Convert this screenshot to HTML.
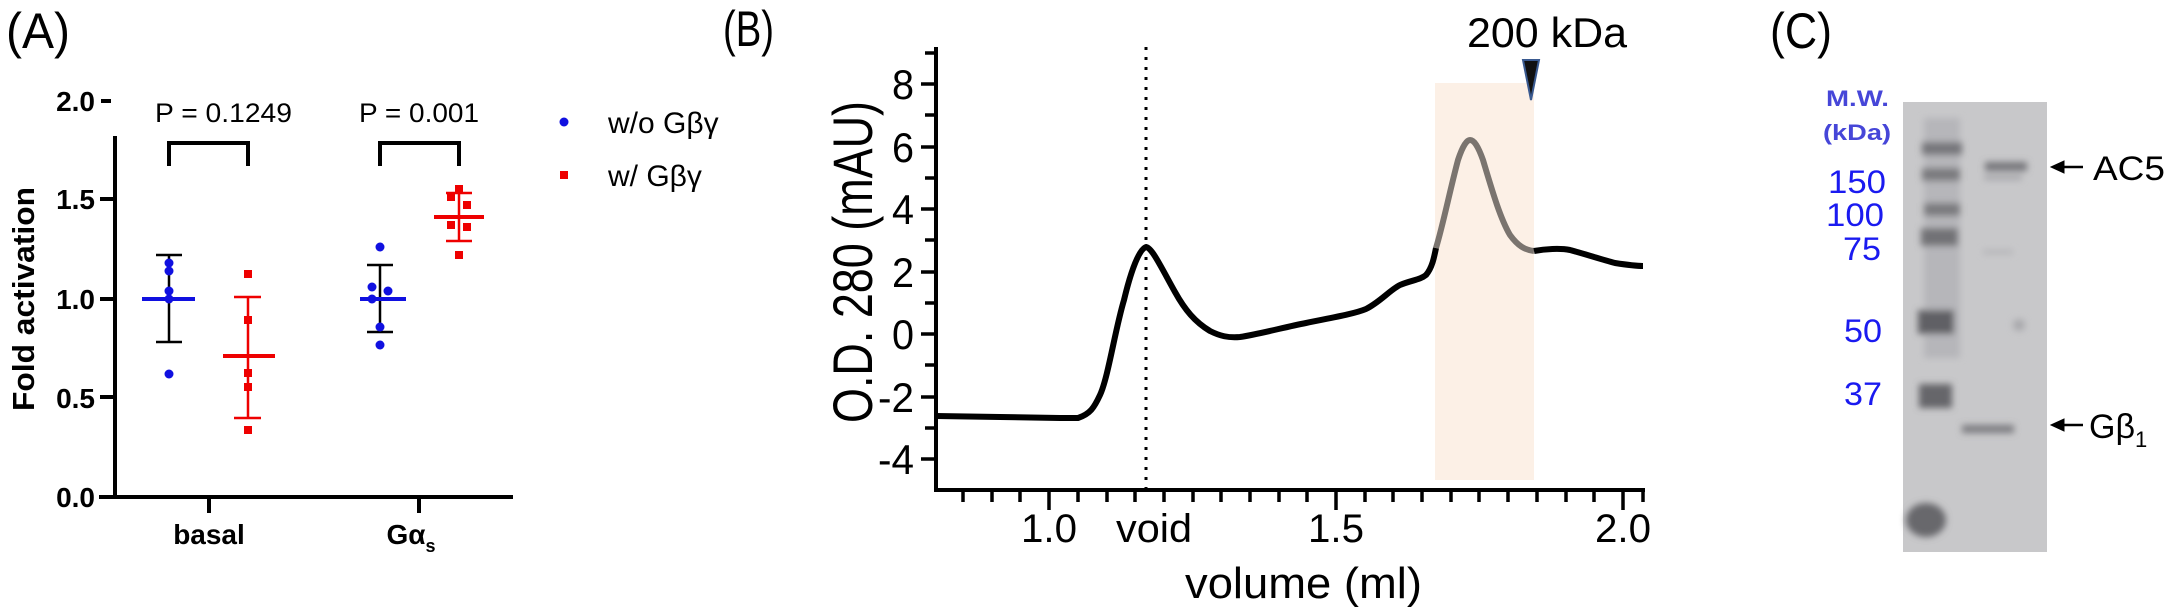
<!DOCTYPE html>
<html><head><meta charset="utf-8"><style>
html,body{margin:0;padding:0;background:#fff;}
svg{display:block;}
text{font-family:"Liberation Sans",Arial,sans-serif;}
</style></head><body>
<svg width="2168" height="611" viewBox="0 0 2168 611" xmlns="http://www.w3.org/2000/svg">
<defs>
<filter id="blur2" x="-50%" y="-50%" width="200%" height="200%"><feGaussianBlur stdDeviation="3.5"/></filter>
</defs>
<!-- Panel A -->
<text x="6" y="48" font-size="50" textLength="64" lengthAdjust="spacingAndGlyphs">(A)</text>
<g stroke="#000" stroke-width="4" fill="none">
<line x1="115" y1="136" x2="115" y2="499"/>
<line x1="99" y1="497" x2="513" y2="497"/>
<line x1="100" y1="397" x2="115" y2="397"/>
<line x1="100" y1="299" x2="115" y2="299"/>
<line x1="100" y1="199" x2="115" y2="199"/>
<line x1="101" y1="101" x2="111" y2="101"/>
<line x1="209" y1="497" x2="209" y2="513"/>
<line x1="419" y1="497" x2="419" y2="513"/>
<polyline points="169,166 169,143 248,143 248,166"/>
<polyline points="380,166 380,143 459,143 459,166"/>
</g>
<g font-size="28" font-weight="bold" text-anchor="end">
<text x="95" y="507">0.0</text>
<text x="95" y="408">0.5</text>
<text x="95" y="309">1.0</text>
<text x="95" y="209">1.5</text>
<text x="95" y="111">2.0</text>
</g>
<text transform="translate(34,299) rotate(-90)" font-size="31" font-weight="bold" text-anchor="middle" textLength="224" lengthAdjust="spacingAndGlyphs">Fold activation</text>
<text x="209" y="544" font-size="28" font-weight="bold" text-anchor="middle">basal</text>
<text x="411" y="544" font-size="28" font-weight="bold" text-anchor="middle">Gα<tspan font-size="18" dy="8">s</tspan></text>
<text x="155" y="122" font-size="27" textLength="137" lengthAdjust="spacingAndGlyphs">P = 0.1249</text>
<text x="359" y="122" font-size="27" textLength="120" lengthAdjust="spacingAndGlyphs">P = 0.001</text>
<g stroke="#000" stroke-width="2.5">
<line x1="169" y1="255" x2="169" y2="342"/><line x1="156" y1="255" x2="182" y2="255"/><line x1="156" y1="342" x2="182" y2="342"/>
<line x1="380" y1="265" x2="380" y2="332"/><line x1="367" y1="265" x2="393" y2="265"/><line x1="367" y1="332" x2="393" y2="332"/>
</g>
<g stroke="#e00" stroke-width="2.5">
<line x1="248" y1="297" x2="248" y2="418"/><line x1="234" y1="297" x2="261" y2="297"/><line x1="234" y1="418" x2="261" y2="418"/>
<line x1="459" y1="193" x2="459" y2="241"/><line x1="446" y1="193" x2="472" y2="193"/><line x1="446" y1="241" x2="472" y2="241"/>
</g>
<g stroke-width="4">
<line x1="142" y1="299" x2="195" y2="299" stroke="#1010e0"/>
<line x1="360" y1="299" x2="406" y2="299" stroke="#1010e0"/>
<line x1="223" y1="356" x2="275" y2="356" stroke="#e00"/>
<line x1="434" y1="217" x2="484" y2="217" stroke="#e00"/>
</g>
<g fill="#1010e0">
<circle cx="169" cy="263" r="4.5"/><circle cx="169" cy="271" r="4.5"/><circle cx="169" cy="291" r="4.5"/><circle cx="169" cy="299" r="4.5"/><circle cx="169" cy="374" r="4.5"/>
<circle cx="380" cy="247" r="4.5"/><circle cx="372" cy="287" r="4.5"/><circle cx="388" cy="291" r="4.5"/><circle cx="372" cy="299" r="4.5"/><circle cx="380" cy="327" r="4.5"/><circle cx="380" cy="345" r="4.5"/>
<circle cx="564" cy="122" r="4.5"/>
</g>
<g fill="#e00">
<rect x="244" y="270" width="8" height="8"/><rect x="244" y="316" width="8" height="8"/><rect x="244" y="369" width="8" height="8"/><rect x="244" y="383" width="8" height="8"/><rect x="244" y="426" width="8" height="8"/>
<rect x="455" y="185" width="8" height="8"/><rect x="447" y="193" width="8" height="8"/><rect x="463" y="201" width="8" height="8"/><rect x="447" y="221" width="8" height="8"/><rect x="463" y="223" width="8" height="8"/><rect x="455" y="251" width="8" height="8"/>
<rect x="560" y="171" width="8" height="8"/>
</g>
<text x="608" y="133" font-size="30">w/o Gβγ</text>
<text x="608" y="186" font-size="30">w/ Gβγ</text>

<!-- Panel B -->
<text x="723" y="46" font-size="50" textLength="51" lengthAdjust="spacingAndGlyphs">(B)</text>
<rect x="1435" y="83" width="99" height="397" fill="#fcf0e6"/>
<g stroke="#000" stroke-width="4" fill="none">
<line x1="936" y1="47" x2="936" y2="492"/>
<line x1="934" y1="490" x2="1645" y2="490"/>
</g>
<g stroke="#000" stroke-width="3.5">
<line x1="936" y1="53" x2="925" y2="53"/><line x1="936" y1="84" x2="921" y2="84"/><line x1="936" y1="115" x2="925" y2="115"/><line x1="936" y1="147" x2="921" y2="147"/><line x1="936" y1="178" x2="925" y2="178"/><line x1="936" y1="209" x2="921" y2="209"/><line x1="936" y1="240" x2="925" y2="240"/><line x1="936" y1="272" x2="921" y2="272"/><line x1="936" y1="303" x2="925" y2="303"/><line x1="936" y1="334" x2="921" y2="334"/><line x1="936" y1="365" x2="925" y2="365"/><line x1="936" y1="397" x2="921" y2="397"/><line x1="936" y1="428" x2="925" y2="428"/><line x1="936" y1="459" x2="921" y2="459"/>
<line x1="963" y1="490" x2="963" y2="502"/><line x1="992" y1="490" x2="992" y2="502"/><line x1="1020" y1="490" x2="1020" y2="502"/><line x1="1049" y1="490" x2="1049" y2="510"/><line x1="1078" y1="490" x2="1078" y2="502"/><line x1="1107" y1="490" x2="1107" y2="502"/><line x1="1135" y1="490" x2="1135" y2="502"/><line x1="1164" y1="490" x2="1164" y2="502"/><line x1="1193" y1="490" x2="1193" y2="502"/><line x1="1221" y1="490" x2="1221" y2="502"/><line x1="1250" y1="490" x2="1250" y2="502"/><line x1="1279" y1="490" x2="1279" y2="502"/><line x1="1307" y1="490" x2="1307" y2="502"/><line x1="1336" y1="490" x2="1336" y2="510"/><line x1="1365" y1="490" x2="1365" y2="502"/><line x1="1393" y1="490" x2="1393" y2="502"/><line x1="1422" y1="490" x2="1422" y2="502"/><line x1="1451" y1="490" x2="1451" y2="502"/><line x1="1479" y1="490" x2="1479" y2="502"/><line x1="1508" y1="490" x2="1508" y2="502"/><line x1="1537" y1="490" x2="1537" y2="502"/><line x1="1566" y1="490" x2="1566" y2="502"/><line x1="1594" y1="490" x2="1594" y2="502"/><line x1="1623" y1="490" x2="1623" y2="510"/><line x1="1643" y1="490" x2="1643" y2="502"/>
</g>
<g font-size="42" text-anchor="end">
<text x="914" y="99" textLength="22" lengthAdjust="spacingAndGlyphs">8</text>
<text x="914" y="162" textLength="22" lengthAdjust="spacingAndGlyphs">6</text>
<text x="914" y="224" textLength="22" lengthAdjust="spacingAndGlyphs">4</text>
<text x="914" y="287" textLength="22" lengthAdjust="spacingAndGlyphs">2</text>
<text x="914" y="349" textLength="22" lengthAdjust="spacingAndGlyphs">0</text>
<text x="914" y="412" textLength="36" lengthAdjust="spacingAndGlyphs">-2</text>
<text x="914" y="474" textLength="36" lengthAdjust="spacingAndGlyphs">-4</text>
</g>
<g font-size="40" text-anchor="middle">
<text x="1049" y="542" textLength="56" lengthAdjust="spacingAndGlyphs">1.0</text>
<text x="1154" y="542" textLength="76" lengthAdjust="spacingAndGlyphs">void</text>
<text x="1336" y="542" textLength="56" lengthAdjust="spacingAndGlyphs">1.5</text>
<text x="1623" y="542" textLength="56" lengthAdjust="spacingAndGlyphs">2.0</text>
</g>
<text x="1185" y="598" font-size="44" textLength="237" lengthAdjust="spacingAndGlyphs">volume (ml)</text>
<text transform="translate(872,262) rotate(-90)" font-size="56" text-anchor="middle" textLength="322" lengthAdjust="spacingAndGlyphs">O.D. 280 (mAU)</text>
<line x1="1146" y1="47" x2="1146" y2="488" stroke="#000" stroke-width="3" stroke-dasharray="3,7"/>
<path d="M936,416 L1000,417 L1060,418 L1078,418 C1090,414 1094,408 1100,395 C1108,378 1115,330 1124,300 C1130,275 1138,250 1146,247 C1152,248 1160,265 1175,292 C1185,310 1195,322 1210,331 C1220,336 1228,338 1240,337 C1260,334 1285,327 1306,323 C1330,318 1354,314 1366,309 C1380,302 1390,290 1400,285 C1412,280 1420,280 1426,275 C1432,268 1434,258 1436,248" fill="none" stroke="#000" stroke-width="6" stroke-linejoin="round"/>
<path d="M1436,248 C1443,225 1450,190 1458,160 C1463,145 1467,140 1470,140 C1474,140 1478,146 1483,160 C1492,190 1500,218 1510,235 C1518,246 1525,250 1534,251" fill="none" stroke="#7a746f" stroke-width="6" stroke-linejoin="round"/>
<path d="M1534,251 C1545,249 1560,248 1570,250 C1585,254 1600,259 1615,263 C1628,265 1637,266 1643,266" fill="none" stroke="#000" stroke-width="6" stroke-linejoin="round"/>
<polygon points="1523,60 1539,60 1531,100" fill="#111" stroke="#3a5a90" stroke-width="2"/>
<text x="1467" y="47" font-size="42" textLength="160" lengthAdjust="spacingAndGlyphs">200 kDa</text>

<!-- Panel C -->
<text x="1770" y="48" font-size="50" textLength="62" lengthAdjust="spacingAndGlyphs">(C)</text>
<rect x="1903" y="102" width="144" height="450" fill="#c8c8ca"/>
<g filter="url(#blur2)">
<rect x="1924" y="118" width="36" height="240" fill="#b6b6ba"/>
<rect x="1922" y="142" width="40" height="13" fill="#76767a"/>
<rect x="1922" y="168" width="38" height="13" fill="#7a7a7e"/>
<rect x="1924" y="203" width="36" height="13" fill="#7a7a7e"/>
<rect x="1921" y="228" width="37" height="18" fill="#727276"/>
<rect x="1918" y="310" width="36" height="24" fill="#616165"/>
<rect x="1919" y="384" width="33" height="24" fill="#66666a"/>
<ellipse cx="1926" cy="520" rx="20" ry="17" fill="#68686c"/>
<rect x="1985" y="162" width="42" height="9" fill="#76767a"/>
<rect x="1984" y="175" width="38" height="5" fill="#a6a6aa"/>
<rect x="1983" y="250" width="30" height="4" fill="#b2b2b6"/>
<rect x="1962" y="425" width="52" height="8" fill="#7c7c80"/>
<circle cx="2019" cy="325" r="6" fill="#a8a8ac"/>
</g>
<g font-weight="bold" fill="#4646d8" font-size="22" text-anchor="end">
<text x="1889" y="106" textLength="63" lengthAdjust="spacingAndGlyphs">M.W.</text>
<text x="1891" y="140" textLength="68" lengthAdjust="spacingAndGlyphs">(kDa)</text>
</g>
<g fill="#1a1af0" font-size="32" text-anchor="end">
<text x="1886" y="193" textLength="58" lengthAdjust="spacingAndGlyphs">150</text>
<text x="1884" y="226" textLength="58" lengthAdjust="spacingAndGlyphs">100</text>
<text x="1881" y="260" textLength="38" lengthAdjust="spacingAndGlyphs">75</text>
<text x="1882" y="342" textLength="38" lengthAdjust="spacingAndGlyphs">50</text>
<text x="1882" y="405" textLength="38" lengthAdjust="spacingAndGlyphs">37</text>
</g>
<g fill="#000" stroke="#000" stroke-width="2.5">
<line x1="2060" y1="167" x2="2083" y2="167"/><polygon points="2051,167 2064,161 2064,173" stroke-width="1"/>
<line x1="2060" y1="425" x2="2083" y2="425"/><polygon points="2051,425 2064,419 2064,431" stroke-width="1"/>
</g>
<text x="2093" y="180" font-size="34" textLength="72" lengthAdjust="spacingAndGlyphs">AC5</text>
<text x="2089" y="438" font-size="34">Gβ<tspan font-size="22" dy="9">1</tspan></text>
</svg>
</body></html>
